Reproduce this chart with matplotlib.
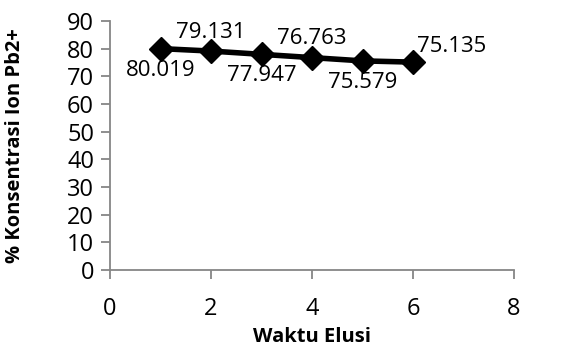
import matplotlib.pyplot as plt

# data
waktu = [1, 2, 3, 4, 5, 6]
konsentrasi = [80.019, 79.131, 77.947, 76.763, 75.579, 75.135]
label_pos = ['below', 'above', 'below', 'above', 'below', 'right']

plt.rcParams['font.family'] = ['Open Sans', 'DejaVu Sans']
grey = '#868686'

fig = plt.figure(figsize=(5.63, 3.47), dpi=100)
ax = fig.add_axes([0.1954, 0.2219, 0.7176, 0.7176])

ax.plot(waktu, konsentrasi, color='black', lw=4, marker='D', markersize=12,
        markerfacecolor='black', markeredgecolor='black')

for x, y, pos in zip(waktu, konsentrasi, label_pos):
    txt = '%.3f' % y
    if pos == 'below':
        ax.annotate(txt, (x, y), xytext=(0, -8), textcoords='offset points',
                    ha='center', va='top', fontsize=16)
    elif pos == 'above':
        ax.annotate(txt, (x, y), xytext=(0, 6), textcoords='offset points',
                    ha='center', va='bottom', fontsize=16)
    else:
        ax.annotate(txt, (x, y), xytext=(3, 4), textcoords='offset points',
                    ha='left', va='bottom', fontsize=16)

ax.set_xlim(0, 8)
ax.set_ylim(0, 90)
ax.set_xticks(range(0, 9, 2))
ax.set_yticks(range(0, 91, 10))

for s in ['top', 'right']:
    ax.spines[s].set_visible(False)
for s in ['left', 'bottom']:
    ax.spines[s].set_color(grey)
    ax.spines[s].set_linewidth(1.3)
ax.tick_params(axis='both', colors=grey, labelcolor='black', labelsize=17,
               direction='out', length=6.5, width=1.3)
ax.tick_params(axis='x', pad=13)
ax.tick_params(axis='y', pad=5)

ax.set_xlabel('Waktu Elusi', fontsize=14.5, fontweight='bold')
ax.set_ylabel('% Konsentrasi Ion Pb2+', fontsize=14.5, fontweight='bold')
ax.xaxis.set_label_coords(0.5, -0.23)
ax.yaxis.set_label_coords(-0.21, 0.5)

fig.savefig('out.png', dpi=100)
